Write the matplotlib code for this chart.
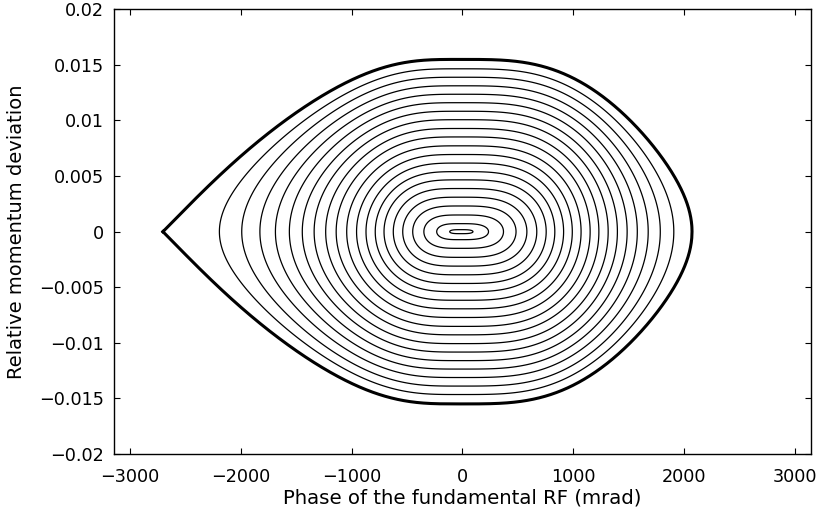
import numpy as np
import matplotlib
matplotlib.use("Agg")
import matplotlib.pyplot as plt

plt.rcParams['font.family'] = ['DejaVu Sans']

# ---- data ----
# peak relative momentum deviation (at phase 0) of each drawn trajectory
delta_peaks = [0.00018, 0.00072, 0.0015, 0.00231, 0.0031, 0.00388, 0.00466,
               0.0054, 0.00617, 0.00694, 0.00772, 0.00852, 0.00928, 0.01007,
               0.01083, 0.0116, 0.01236, 0.01312, 0.01389, 0.01465]
separatrix_peak = 0.0155
cusp_phase = -2700.0       # mrad, unstable fixed point
cusp_slope = 0.0101        # d(delta)/d(phase) [1/rad] of separatrix at the cusp
sep_right_phase = 2068.0   # mrad
# phase (mrad) where trajectory number *_index crosses delta = 0
right_index = [0, 1, 2, 3, 13, 14, 15, 16, 17, 18, 19]
right_phase = [63, 241, 379, 499, 1286, 1385, 1482, 1578, 1686, 1806, 1938]
left_index = [0, 1, 2, 3, 4, 5, 6, 7, 8, 9, 10, 11, 12, 13, 14, 15, 16, 17, 18, 19]
left_phase = [-63, -241, -379, -494, -549, -615, -684, -765, -846, -934, -1030,
              -1126, -1231, -1340, -1460, -1586, -1716, -1857, -2023, -2218]
x_ticks = [-3000, -2000, -1000, 0, 1000, 2000, 3000]
x_ticklabels = ['\u22123000', '\u22122000', '\u22121000', '0', '1000', '2000', '3000']
y_ticks = [-0.02, -0.015, -0.01, -0.005, 0, 0.005, 0.01, 0.015, 0.02]
y_ticklabels = ['\u22120.02', '\u22120.015', '\u22120.01', '\u22120.005', '0',
                '0.005', '0.01', '0.015', '0.02']

# ---- smooth "equivalent amplitude" E(phase): the trajectory through (phase, 0)
# has peak momentum E(phase); potential W = E^2/2, Hamiltonian delta^2/2 + W
SC = 2.7
deg_left, deg_right = 6, 4


def pbasis(u, deg, d=0):
    s = np.atleast_1d(np.asarray(u, float))/SC
    cols = []
    for j in range(1, deg + 1):
        if d == 0:
            cols.append(s**j)
        elif d == 1:
            cols.append(j*s**(j-1)/SC)
        else:
            cols.append(j*(j-1)*s**max(j-2, 0)/SC**2 if j >= 2 else 0*s)
    return np.stack(cols, -1)


def wts(e):
    return 1.0 + 0.002/(e + 0.0002)


# left side (u = -phase)
uL = -np.array(left_phase)/1000
eL = np.array([delta_peaks[k] for k in left_index])
wL = wts(eL)
uc = -cusp_phase/1000
ML = np.vstack([pbasis(uL, deg_left)*wL[:, None],
                pbasis(uc, deg_left)*10,
                pbasis(uc, deg_left, 1)*10,
                pbasis(uc, deg_left, 2)*1.0])
tL = np.concatenate([eL*wL, [separatrix_peak*10, 0.0,
                             -cusp_slope**2/separatrix_peak*1.0]])
cL, *_ = np.linalg.lstsq(ML*1e4, tL*1e4, rcond=None)

# right side
uR = np.array(right_phase)/1000
eR = np.array([delta_peaks[k] for k in right_index])
wR = wts(eR)
ur = sep_right_phase/1000
MR = np.vstack([pbasis(uR, deg_right)*wR[:, None], pbasis(ur, deg_right)*5])
tR = np.concatenate([eR*wR, [separatrix_peak*5]])
cR, *_ = np.linalg.lstsq(MR*1e4, tR*1e4, rcond=None)


def E(x):
    x = np.atleast_1d(np.asarray(x, float))
    return np.where(x < 0, pbasis(-x, deg_left) @ cL, pbasis(x, deg_right) @ cR)


# cusp = maximum of E on the left
xs = np.linspace(cusp_phase/1000 - 0.3, cusp_phase/1000 + 0.3, 20001)
x_cusp = float(xs[np.argmax(E(xs))])
E_sep = float(np.ravel(E(x_cusp))[0])
xr = np.linspace(0.1, 3.0, 30001)
hit = np.where(E(xr) >= E_sep)[0]
x_right = float(xr[hit[0]]) if len(hit) else sep_right_phase/1000

fig = plt.figure(figsize=(8.22, 5.21), dpi=100)
ax = fig.add_axes([0.1387, 0.1286, 0.9866-0.1387, 0.9821-0.1286])

phi = np.linspace(x_cusp, x_right + 0.05, 1600)
dl = np.linspace(-0.018, 0.018, 1400)
P, D = np.meshgrid(phi, dl)
H = D**2/2 + (E(phi)**2/2)[None, :]
levels = sorted(d**2/2 for d in delta_peaks)
ax.contour(P*1000, D, H, levels=levels, colors='black', linewidths=0.9)

ps = np.linspace(x_cusp, x_right, 4000)
ds = np.sqrt(np.clip(E_sep**2 - E(ps)**2, 0, None))
ds[-1] = 0
ax.plot(np.concatenate([ps, ps[::-1]])*1000, np.concatenate([ds, -ds[::-1]]),
        color='black', lw=2.2, solid_joinstyle='miter')

ax.set_xlim(-np.pi*1000, np.pi*1000)
ax.set_ylim(-0.02, 0.02)
ax.set_xticks(x_ticks)
ax.set_xticklabels(x_ticklabels)
ax.set_yticks(y_ticks)
ax.set_yticklabels(y_ticklabels)
ax.tick_params(direction='in', top=True, right=True, length=4.5, width=0.8,
               labelsize=12.7)
ax.tick_params(axis='x', pad=10)
ax.tick_params(axis='y', pad=7.5)
for s in ax.spines.values():
    s.set_linewidth(1.0)
ax.set_xlabel('Phase of the fundamental RF (mrad)', fontsize=14.2, labelpad=2)
ax.set_ylabel('Relative momentum deviation', fontsize=14.0, labelpad=9)

fig.savefig('out.png', dpi=100)
